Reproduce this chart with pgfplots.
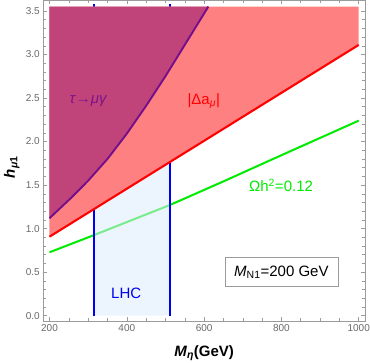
\documentclass[border=0pt]{standalone}
\usepackage{pgfplots}
\pgfplotsset{compat=1.18}
\usetikzlibrary{calc}
\usepackage{fontspec}
\setmainfont{Liberation Sans}
\definecolor{tickgray}{RGB}{105,105,105}
\definecolor{framegray}{RGB}{155,155,155}
\definecolor{redfill}{RGB}{255,128,128}
\definecolor{purplefill}{RGB}{192,68,122}
\definecolor{purpleline}{RGB}{115,15,140}
\definecolor{purpletext}{RGB}{125,20,135}
\definecolor{lhcfill}{RGB}{220,236,252}
\definecolor{mygreen}{RGB}{0,235,0}
\definecolor{myblue}{RGB}{0,0,240}
\definecolor{myred}{RGB}{255,0,0}
\begin{document}
\begin{tikzpicture}
\begin{axis}[
  scale only axis, width=321.6pt, height=320.5pt,
  xmin=184, xmax=1016, ymin=-0.061, ymax=3.62,
  xtick={200,400,600,800,1000}, ytick={0,0.5,1,1.5,2,2.5,3,3.5},
  minor x tick num=3, minor y tick num=4,
  tick align=inside,
  major tick length=4pt, minor tick length=2.5pt,
  tick style={framegray, line width=0.5pt},
  axis line style={framegray, line width=0.6pt},
  tick label style={font=\fontsize{10}{12}\selectfont, text=tickgray},
  /pgf/number format/assume math mode=true,
  scaled ticks=false,
  y tick label style={/pgf/number format/.cd, fixed, fixed zerofill, precision=1, /tikz/.cd},
  x tick label style={/pgf/number format/.cd, fixed, 1000 sep={}, /tikz/.cd},
  xlabel={\textbf{\textit{M}}\textsubscript{\textbf{\textit{η}}}\textbf{(GeV)}},
  ylabel={\textbf{\textit{h}}\textsubscript{\textbf{\textit{μ}1}}},
  x label style={at={(axis description cs:0.5,-0.1)}, anchor=center, font=\fontsize{15}{18}\selectfont},
  y label style={at={(axis description cs:-0.098,0.48)}, anchor=center, rotate=0, font=\fontsize{15}{18}\selectfont},
]
% Relic density line
\addplot[mygreen, line width=2pt] coordinates {
 (200,0.728) (316,0.927) (512,1.272) (659,1.56) (807,1.857) (1000,2.24)};
% LHC region
\addplot[fill=lhcfill, fill opacity=0.55, draw=none] coordinates {
 (316,0) (512,0) (512,1.766) (316,1.226)} --cycle;
\addplot[myblue, line width=2pt] coordinates {(316,0) (316,3.575)};
\addplot[myblue, line width=2pt] coordinates {(512,0) (512,3.575)};
% Delta a_mu region
\addplot[fill=redfill, draw=none] coordinates {
 (200,0.907) (1000,3.11) (1000,3.55) (200,3.55)} --cycle;
\addplot[myred, line width=2.1pt] coordinates {(200,0.907) (1000,3.11)};
% tau -> mu gamma region
\addplot[fill=purplefill, draw=none] coordinates {
 (200,1.119) (260,1.37) (300,1.55) (350,1.80) (400,2.09) (450,2.41)
 (500,2.75) (550,3.11) (611,3.55) (200,3.55)} --cycle;
\addplot[purpleline, line width=1.9pt] coordinates {
 (200,1.119) (260,1.37) (300,1.55) (350,1.80) (400,2.09) (450,2.41)
 (500,2.75) (550,3.11) (611,3.55)};
% labels
\node[anchor=base, text=purpletext, font=\fontsize{15}{18}\selectfont] at (axis cs:301,2.44) {\textit{τ}→\textit{μγ}};
\node[anchor=base, text=myred, font=\fontsize{15}{18}\selectfont] at (axis cs:599,2.43) {|Δa\textsubscript{\textit{μ}}|};
\node[anchor=base, text=mygreen, font=\fontsize{15}{18}\selectfont] at (axis cs:799,1.424) {Ωh\textsuperscript{2}=0.12};
\node[anchor=base, text=myblue, font=\fontsize{15}{18}\selectfont] at (axis cs:398.5,0.20) {LHC};
\node[draw=framegray, fill=white, line width=0.7pt, minimum width=113pt, minimum height=28.5pt, inner sep=2pt, font=\fontsize{15}{18}\selectfont] at (axis cs:800,0.502) {\textit{M}\textsubscript{N1}=200 GeV};
\coordinate (ll) at (rel axis cs:0,0);
\coordinate (ur) at (rel axis cs:1,1);
\end{axis}
\pgfresetboundingbox
\path[use as bounding box] ($(ll)+(-43.3pt,-42pt)$) rectangle ($(ur)+(5.1pt,0.5pt)$);
\end{tikzpicture}
\end{document}
